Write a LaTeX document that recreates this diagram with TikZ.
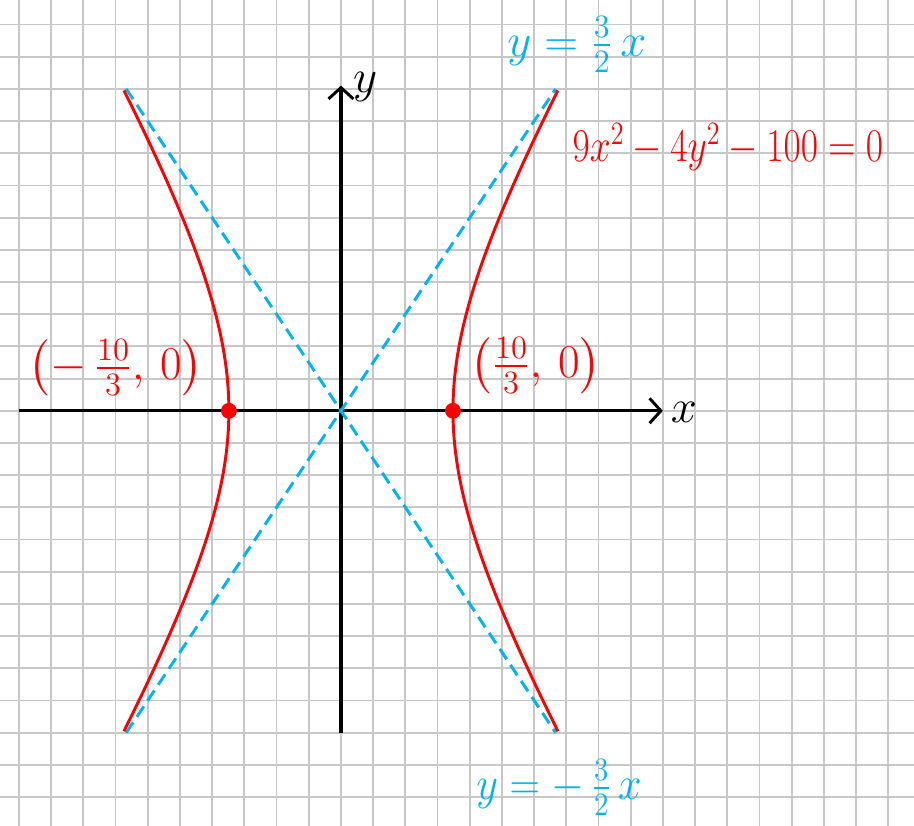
\documentclass[tikz,border=0pt]{standalone}
\usepackage{amsmath}
\usetikzlibrary{arrows.meta}
\definecolor{penred}{RGB}{255,0,0}
\definecolor{penblue}{RGB}{0,180,240}

\begin{document}
\begin{tikzpicture}[x=.5cm,y=.5cm,
  gridline/.style={black!22,line width=.8pt},
  axis/.style={line width=1.5pt,-{Straight Barb[length=5pt,width=11pt,line width=1.3pt]}},
  branch/.style={penred,line width=1.3pt},
  asym/.style={penblue,line width=1.3pt,dash pattern=on 5.5pt off 3pt},
  vertex/.style={circle,fill=penred,inner sep=0pt,minimum size=7pt},
  redlabel/.style={text=penred,font=\huge,inner sep=1pt},
  bluelabel/.style={text=penblue,font=\huge,inner sep=1pt}]
\useasboundingbox (-10.59,-12.89) rectangle (17.8,12.76);
\fill[white] (-10.59,-12.89) rectangle (17.8,12.76);
% squared paper
\foreach \i in {-10,...,17}
  \draw[gridline] (\i,-12.89) -- (\i,12.76);
\foreach \j in {-12,...,12}
  \draw[gridline] (-10.59,\j) -- (17.8,\j);
% axes
\coordinate (xmin) at (-10,0);
\coordinate (xmax) at (10,0);
\coordinate (ymin) at (0,-10);
\coordinate (ymax) at (0,10.1);
\draw[axis] (xmin) -- (xmax);
\draw[axis] (ymin) -- (ymax);
\node[font=\huge] (xlab) at (10.65,-.05) {$x$};
\node[font=\huge] (ylab) at (.75,10.05) {$y$};
% asymptotes
\coordinate (ll) at (-6.67,-10);
\coordinate (ur) at (6.67,10);
\coordinate (ul) at (-6.67,10);
\coordinate (lr) at (6.67,-10);
\draw[asym] (ll) -- (ur);
\draw[asym] (ul) -- (lr);
% the two branches
\draw[branch] plot[domain=-1.28:1.28,samples=60,smooth] ({3.48*cosh(\x)},{6*sinh(\x)});
\draw[branch] plot[domain=-1.28:1.28,samples=60,smooth] ({-3.48*cosh(\x)},{6*sinh(\x)});
\node[vertex] (vright) at (3.48,0) {};
\node[vertex] (vleft) at (-3.48,0) {};
% labels
\node[redlabel] (eqn) at (12.02,8.2) {\scalebox{.8}[1]{$9x^2-4y^2-100=0$}};
\node[redlabel] (lleft) at (-6.99,1.34) {$\left(-\,\frac{10}{3},\,0\right)$};
\node[redlabel] (lright) at (6.06,1.40) {$\left(\frac{10}{3},\,0\right)$};
\node[bluelabel] (asymup) at (7.33,11.37) {$y=\frac{3}{2}\,x$};
\node[bluelabel] (asymdown) at (6.77,-11.71) {\scalebox{.9}[1]{$y=-\,\frac{3}{2}\,x$}};
\end{tikzpicture}
\end{document}
